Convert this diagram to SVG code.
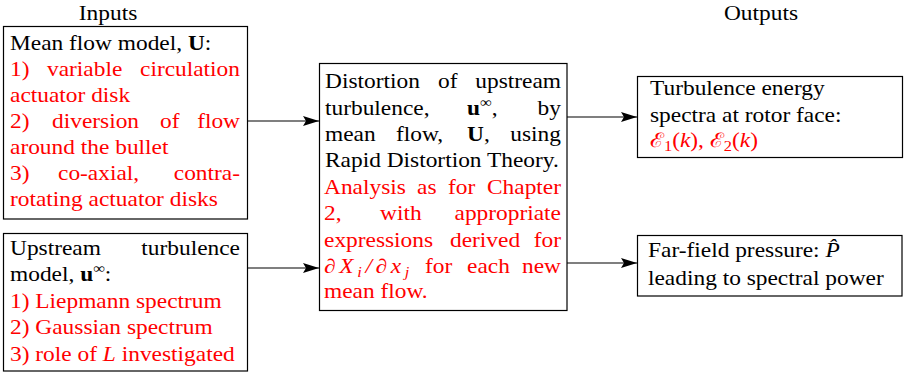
<svg xmlns="http://www.w3.org/2000/svg" width="904" height="373" viewBox="0 0 904 373">
<defs>
<style>
.t{font-family:"Liberation Serif","DejaVu Serif",serif;font-size:20px;fill:#000}
.r{fill:#ff0000}
.e{text-anchor:end}
.m{text-anchor:middle}
.b{font-weight:bold}
.i{font-style:italic}
.box{fill:#fff;stroke:#000;stroke-width:1.2}
.conn{stroke:#000;stroke-width:1.2;fill:none}
</style>
<marker id="arr" markerUnits="userSpaceOnUse" markerWidth="17" markerHeight="11" refX="16" refY="5.5" orient="auto">
<path d="M0,0.5 L16,5.5 L0,10.5 L3,5.5 z" fill="#000"/>
</marker>
</defs>
<rect width="904" height="373" fill="#fff"/>

<text class="t m" transform="matrix(1.17 0 0 1 108 20)">Inputs</text>
<text class="t m" transform="matrix(1.17 0 0 1 761 20)">Outputs</text>

<g id="connectors">
<line class="conn" x1="247.5" y1="121" x2="319" y2="121" marker-end="url(#arr)"/>
<line class="conn" x1="247.5" y1="268" x2="319" y2="268" marker-end="url(#arr)"/>
<line class="conn" x1="567" y1="117" x2="637" y2="117" marker-end="url(#arr)"/>
<line class="conn" x1="567" y1="263" x2="637" y2="263" marker-end="url(#arr)"/>
</g>

<g id="mean-flow">
<rect class="box" x="3.5" y="26.5" width="244" height="192.5"/>
<text class="t" transform="matrix(1.17 0 0 1 10 50)">Mean flow model, <tspan class="b">U</tspan>:</text>
<text class="t r" transform="matrix(1.17 0 0 1 10 76)">1)</text>
<text class="t r" transform="matrix(1.17 0 0 1 47 76)">variable</text>
<text class="t r e" transform="matrix(1.17 0 0 1 240 76)">circulation</text>
<text class="t r" transform="matrix(1.17 0 0 1 10 102)">actuator disk</text>
<text class="t r" transform="matrix(1.17 0 0 1 10 128)">2)</text>
<text class="t r" transform="matrix(1.17 0 0 1 52 128)">diversion</text>
<text class="t r" transform="matrix(1.17 0 0 1 160 128)">of</text>
<text class="t r e" transform="matrix(1.17 0 0 1 240 128)">flow</text>
<text class="t r" transform="matrix(1.17 0 0 1 10 154)">around the bullet</text>
<text class="t r" transform="matrix(1.17 0 0 1 10 180)">3)</text>
<text class="t r" transform="matrix(1.17 0 0 1 58 180)">co-axial,</text>
<text class="t r e" transform="matrix(1.17 0 0 1 240 180)">contra-</text>
<text class="t r" transform="matrix(1.17 0 0 1 10 206)">rotating actuator disks</text>
</g>

<g id="upstream">
<rect class="box" x="3.5" y="233.5" width="244" height="137.5"/>
<text class="t" transform="matrix(1.17 0 0 1 10 255)">Upstream</text>
<text class="t e" transform="matrix(1.17 0 0 1 240 255)">turbulence</text>
<text class="t" transform="matrix(1.17 0 0 1 10 281)">model, <tspan class="b">u</tspan><tspan font-size="14" dy="-8">∞</tspan><tspan dy="8">:</tspan></text>
<text class="t r" transform="matrix(1.17 0 0 1 10 308)">1) Liepmann spectrum</text>
<text class="t r" transform="matrix(1.17 0 0 1 10 334)">2) Gaussian spectrum</text>
<text class="t r" transform="matrix(1.17 0 0 1 10 361)">3) role of <tspan class="i">L</tspan> investigated</text>
</g>

<g id="distortion">
<rect class="box" x="319.5" y="63.5" width="247.5" height="247"/>
<text class="t" transform="matrix(1.17 0 0 1 325 88)">Distortion</text>
<text class="t" transform="matrix(1.17 0 0 1 438 88)">of</text>
<text class="t e" transform="matrix(1.17 0 0 1 561 88)">upstream</text>
<text class="t" transform="matrix(1.17 0 0 1 325 115)">turbulence,</text>
<text class="t" transform="matrix(1.17 0 0 1 467 115)"><tspan class="b">u</tspan><tspan font-size="14" dy="-8">∞</tspan><tspan dy="8">,</tspan></text>
<text class="t e" transform="matrix(1.17 0 0 1 561 115)">by</text>
<text class="t" transform="matrix(1.17 0 0 1 325 141)">mean</text>
<text class="t" transform="matrix(1.17 0 0 1 396 141)">flow,</text>
<text class="t" transform="matrix(1.17 0 0 1 467 141)"><tspan class="b">U</tspan>,</text>
<text class="t e" transform="matrix(1.17 0 0 1 561 141)">using</text>
<text class="t" transform="matrix(1.17 0 0 1 325 167)">Rapid Distortion Theory.</text>
<text class="t r" transform="matrix(1.17 0 0 1 324 194)">Analysis</text>
<text class="t r" transform="matrix(1.17 0 0 1 417 194)">as</text>
<text class="t r" transform="matrix(1.17 0 0 1 448 194)">for</text>
<text class="t r e" transform="matrix(1.17 0 0 1 561 194)">Chapter</text>
<text class="t r" transform="matrix(1.17 0 0 1 324 220)">2,</text>
<text class="t r" transform="matrix(1.17 0 0 1 380 220)">with</text>
<text class="t r e" transform="matrix(1.17 0 0 1 561 220)">appropriate</text>
<text class="t r" transform="matrix(1.17 0 0 1 324 247)">expressions</text>
<text class="t r" transform="matrix(1.17 0 0 1 450 247)">derived</text>
<text class="t r e" transform="matrix(1.17 0 0 1 561 247)">for</text>
<text class="t r i" transform="matrix(1.17 0 0 1 324 273)" textLength="73" lengthAdjust="spacing">∂X<tspan font-size="14" dy="4">i</tspan><tspan dy="-4">/∂x</tspan><tspan font-size="14" dy="4">j</tspan></text>
<text class="t r" transform="matrix(1.17 0 0 1 425 273)">for</text>
<text class="t r" transform="matrix(1.17 0 0 1 467 273)">each</text>
<text class="t r e" transform="matrix(1.17 0 0 1 561 273)">new</text>
<text class="t r" transform="matrix(1.17 0 0 1 324 298)">mean flow.</text>
</g>

<g id="spectra">
<rect class="box" x="637.5" y="76.5" width="265" height="81"/>
<text class="t" transform="matrix(1.17 0 0 1 650 95)">Turbulence energy</text>
<text class="t" transform="matrix(1.17 0 0 1 650 122)">spectra at rotor face:</text>
<text class="t r" transform="matrix(1.17 0 0 1 650 147)">ℰ<tspan font-size="14" dy="4">1</tspan><tspan dy="-4">(</tspan><tspan class="i">k</tspan>), ℰ<tspan font-size="14" dy="4">2</tspan><tspan dy="-4">(</tspan><tspan class="i">k</tspan>)</text>
</g>

<g id="far-field">
<rect class="box" x="637.5" y="235.5" width="264.5" height="60.5"/>
<text class="t" transform="matrix(1.17 0 0 1 648 257)">Far-field pressure: <tspan class="i">P̂</tspan></text>
<text class="t" transform="matrix(1.17 0 0 1 648 285)">leading to spectral power</text>
</g>
</svg>
